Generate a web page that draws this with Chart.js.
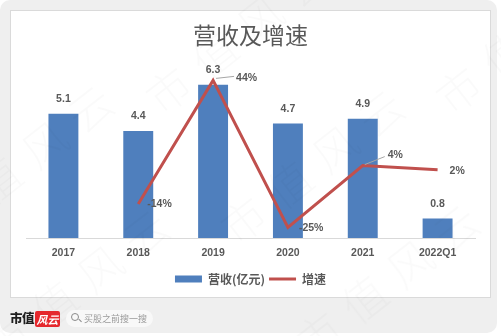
<!DOCTYPE html>
<html>
<head>
<meta charset="utf-8">
<script src="https://cdn.jsdelivr.net/npm/chart.js@4.4.1/dist/chart.umd.min.js"></script>
<style>
  html, body { margin: 0; padding: 0; background: #fff; }
  #page { position: relative; width: 501px; height: 336px; overflow: hidden; background: #fff; }
  #frame { position: absolute; left: 0; top: 0; width: 497px; height: 333px; background: #efefef; border-radius: 10px; }
  #card { position: absolute; left: 10px; top: 10px; width: 479px; height: 286px; background: #fff; border: 1px solid #dadada; }
  #plot { position: absolute; left: 0; top: 0; width: 479px; height: 286px; }
  .wm { position: absolute; font: 300 44px "Noto Sans CJK SC", sans-serif; color: rgba(0,0,0,0.018);
        letter-spacing: 14px; white-space: nowrap; transform: rotate(-38deg); transform-origin: left center; pointer-events: none; }
  #brand { position: absolute; left: 10px; top: 309px; font: 900 12.5px "Noto Sans CJK SC", sans-serif; color: #1f1f1f; line-height: 18px; letter-spacing: -0.5px; }
  #badge { position: absolute; left: 35px; top: 311px; width: 25px; height: 16px; background: #e5282d; border-radius: 2px;
           color: #fff; font: italic bold 11px "Noto Sans CJK SC", sans-serif; line-height: 16px; text-align: center; }
  #search { position: absolute; left: 66px; top: 310px; width: 87px; height: 17px; background: #f8f8f8; border-radius: 9px; }
  #search .lens { position: absolute; left: 5px; top: 3px; width: 6px; height: 6px; border: 1.4px solid #8a8a8a; border-radius: 50%; }
  #search .handle { position: absolute; left: 12px; top: 10px; width: 4px; height: 1.4px; background: #8a8a8a; transform: rotate(45deg); }
  #search .txt { position: absolute; left: 18px; top: 0; font: 9px "Noto Sans CJK SC", sans-serif; color: #9a9a9a; line-height: 17px; }
</style>
</head>
<body>
<div id="page">
  <div id="frame"></div>
  <div id="card">
    <div id="plot"><canvas id="chart"></canvas></div>
  </div>
  <div class="wm" style="left:150px;top:70px;">市值风云</div>
  <div class="wm" style="left:-20px;top:160px;">值风云</div>
  <div class="wm" style="left:225px;top:200px;">市值风云</div>
  <div class="wm" style="left:-10px;top:320px;">市值风云</div>
  <div class="wm" style="left:300px;top:315px;">市值风云</div>
  <div class="wm" style="left:440px;top:70px;">市值</div>
  <div id="brand">市值</div>
  <div id="badge">风云</div>
  <div id="search"><div class="lens"></div><div class="handle"></div><div class="txt">买股之前搜一搜</div></div>
</div>
<script>
// Periods on the category axis
const periods = ['2017', '2018', '2019', '2020', '2021', '2022Q1'];
// Revenue, 100 million yuan
const revenue = [5.1, 4.4, 6.3, 4.7, 4.9, 0.8];
// Year-on-year growth, percent (no prior year for 2017)
const growth = [null, -14, 44, -25, 4, 2];
// Legend / series names
const seriesNames = ['营收(亿元)', '增速'];
const chartTitle = '营收及增速';

const TEXT_GREY = '#595959';
const NUM_FONT = 'bold 10.5px "Liberation Sans", Arial, sans-serif';

// Where each growth label sits relative to its point (and optional leader line)
const growthLabelPlacement = [
  null,
  { dx: 9, dy: 0 },
  { dx: 23, dy: -2, leader: [3, -2, 21, -4] },
  { dx: 11, dy: 1 },
  { dx: 25, dy: -10, leader: [2, -1, 22, -9] },
  { dx: 12, dy: 1 }
];

const valueLabels = {
  id: 'valueLabels',
  afterDatasetsDraw(chart) {
    const ctx = chart.ctx;
    ctx.save();
    ctx.font = NUM_FONT;
    ctx.fillStyle = TEXT_GREY;
    ctx.textBaseline = 'middle';

    // revenue values above the bars
    ctx.textAlign = 'center';
    chart.getDatasetMeta(0).data.forEach((bar, i) => {
      ctx.fillText(revenue[i].toFixed(1), bar.x, bar.y - 14.5);
    });

    // growth values beside the line points
    ctx.textAlign = 'left';
    chart.getDatasetMeta(1).data.forEach((pt, i) => {
      const v = growth[i];
      const p = growthLabelPlacement[i];
      if (v === null || !p) return;
      if (p.leader) {
        ctx.save();
        ctx.strokeStyle = '#a6a6a6';
        ctx.lineWidth = 1;
        ctx.beginPath();
        ctx.moveTo(pt.x + p.leader[0], pt.y + p.leader[1]);
        ctx.lineTo(pt.x + p.leader[2], pt.y + p.leader[3]);
        ctx.stroke();
        ctx.restore();
      }
      ctx.fillText((v < 0 ? '-' + Math.abs(v) : String(v)) + '%', pt.x + p.dx, pt.y + p.dy);
    });
    ctx.restore();
  }
};

new Chart(document.getElementById('chart'), {
  data: {
    labels: periods,
    datasets: [
      {
        type: 'bar',
        label: seriesNames[0],
        data: revenue,
        backgroundColor: '#4f7fbd',
        borderWidth: 0,
        yAxisID: 'y',
        order: 2,
        barPercentage: 0.4,
        categoryPercentage: 1
      },
      {
        type: 'line',
        label: seriesNames[1],
        data: growth,
        borderColor: '#c0504d',
        backgroundColor: '#c0504d',
        borderWidth: 3,
        borderJoinStyle: 'miter',
        pointRadius: 0,
        tension: 0,
        yAxisID: 'y1',
        order: 1
      }
    ]
  },
  options: {
    responsive: true,
    maintainAspectRatio: false,
    animation: false,
    events: [],
    layout: { padding: { left: 15, right: 15, top: 0, bottom: 2 } },
    scales: {
      x: {
        grid: { display: false, drawTicks: false },
        border: { display: true, color: '#d9d9d9', width: 1 },
        ticks: { color: TEXT_GREY, font: { family: '"Liberation Sans", Arial, sans-serif', size: 10.5, weight: 'bold' }, padding: 9 },
        afterFit(scale) { scale.height = 31; }
      },
      y: { display: false, min: 0, max: 7 },
      y1: { display: false, min: -30, max: 50 }
    },
    plugins: {
      title: {
        display: true,
        text: chartTitle,
        color: TEXT_GREY,
        font: { family: '"Noto Sans CJK SC", sans-serif', size: 23, weight: 'normal' },
        padding: { top: 10, bottom: 19 }
      },
      legend: {
        position: 'bottom',
        maxHeight: 28,
        labels: {
          usePointStyle: true,
          pointStyleWidth: 27,
          boxHeight: 7,
          padding: 4,
          color: TEXT_GREY,
          font: { family: '"Noto Sans CJK SC", sans-serif', size: 12, weight: 'bold' },
          sort: (a, b) => a.datasetIndex - b.datasetIndex,
          generateLabels(chart) {
            const items = Chart.defaults.plugins.legend.labels.generateLabels(chart);
            items.forEach(item => {
              if (item.datasetIndex === 0) {
                item.pointStyle = 'rect';
                item.lineWidth = 0;
              } else {
                item.pointStyle = 'line';
                item.lineWidth = 3;
              }
            });
            return items;
          }
        }
      },
      tooltip: { enabled: false }
    }
  },
  plugins: [valueLabels]
});
</script>
</body>
</html>
